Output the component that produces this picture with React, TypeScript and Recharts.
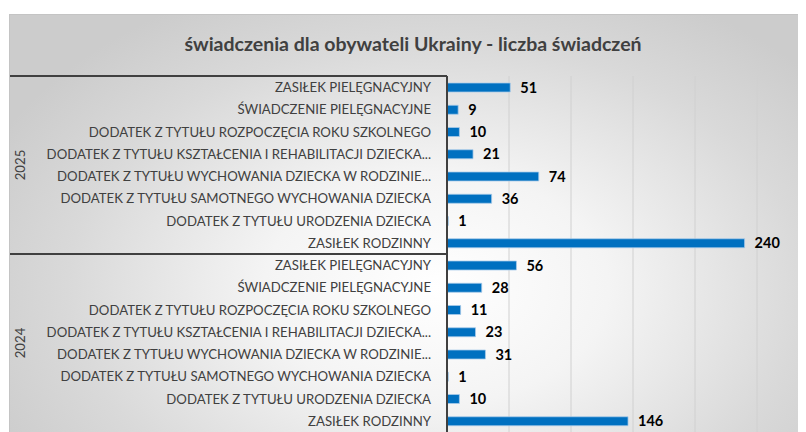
import { BarChart, Bar, XAxis, YAxis, CartesianGrid, LabelList } from "recharts";

const years = ["2025", "2024"];

const categories = [
  "ZASIŁEK PIELĘGNACYJNY",
  "ŚWIADCZENIE PIELĘGNACYJNE",
  "DODATEK Z TYTUŁU ROZPOCZĘCIA ROKU SZKOLNEGO",
  "DODATEK Z TYTUŁU KSZTAŁCENIA I REHABILITACJI DZIECKA...",
  "DODATEK Z TYTUŁU WYCHOWANIA DZIECKA W RODZINIE...",
  "DODATEK Z TYTUŁU SAMOTNEGO WYCHOWANIA DZIECKA",
  "DODATEK Z TYTUŁU URODZENIA DZIECKA",
  "ZASIŁEK RODZINNY",
];

const values2025 = [51, 9, 10, 21, 74, 36, 1, 240];
const values2024 = [56, 28, 11, 23, 31, 1, 10, 146];

const xTicks = [0, 50, 100, 150, 200, 250, 300];

const rows = [
  ...categories.map((c, i) => ({ key: `2025-${i}`, year: years[0], label: c, value: values2025[i] })),
  ...categories.map((c, i) => ({ key: `2024-${i}`, year: years[1], label: c, value: values2024[i] })),
];

const FONT = "Lato, 'Open Sans', sans-serif";
const BAND = 22.25;
const BOX_LEFT = 2;
const AXIS_X = 439;

function CategoryTick(props: any) {
  const { x, y, index } = props;
  const row = rows[index];
  const pos = index % categories.length;
  return (
    <g>
      <text
        x={x}
        y={y}
        dy={5}
        textAnchor="end"
        fill="#404040"
        fontSize={13.2}
        fontFamily={FONT}
      >
        {row.label}
      </text>
      {pos === 0 && (
        <line x1={BOX_LEFT} x2={AXIS_X} y1={y - BAND / 2} y2={y - BAND / 2} stroke="#404040" strokeWidth={2} />
      )}
      {pos === 3 && (
        <text
          x={12}
          y={y + BAND / 2}
          dy={5}
          textAnchor="middle"
          fill="#404040"
          fontSize={13.2}
          fontFamily={FONT}
          transform={`rotate(-90 12 ${y + BAND / 2})`}
        >
          {row.year}
        </text>
      )}
    </g>
  );
}

export default function App() {
  return (
    <div style={{ position: "relative", width: 798, height: 424, overflow: "hidden", background: "#fff" }}>
      <div
        style={{
          position: "absolute",
          left: 1,
          top: 6,
          width: 820,
          height: 440,
          borderTop: "1px solid #c4c4c4",
          borderLeft: "1px solid #c4c4c4",
          background: "radial-gradient(ellipse 60% 75% at 52% 62%, #ffffff 0%, #f4f4f4 35%, #d9d9d9 75%, #cccccc 100%)",
        }}
      />
      <div
        style={{
          position: "absolute",
          left: 0,
          top: 24,
          width: 810,
          textAlign: "center",
          fontFamily: FONT,
          fontWeight: 700,
          fontSize: 19.5,
          color: "#404040",
        }}
      >
        świadczenia dla obywateli Ukrainy - liczba świadczeń
      </div>
      <div style={{ position: "absolute", left: 0, top: 0 }}>
        <BarChart
          width={811}
          height={424}
          data={rows}
          layout="vertical"
          margin={{ top: 68, right: 0, bottom: 0, left: 0 }}
          barCategoryGap={0}
        >
          <CartesianGrid horizontal={false} stroke="#d0d0d0" />
          <XAxis type="number" domain={[0, 300]} ticks={xTicks} hide />
          <YAxis
            type="category"
            dataKey="key"
            width={AXIS_X}
            tickLine={false}
            tickSize={0}
            tickMargin={16}
            axisLine={{ stroke: "#404040", strokeWidth: 2 }}
            tick={<CategoryTick />}
            interval={0}
          />
          <Bar dataKey="value" fill="#0070C0" stroke="#A9CBEA" strokeWidth={0.75} barSize={9} isAnimationActive={false}>
            <LabelList
              dataKey="value"
              position="right"
              offset={10}
              fill="#000"
              fontSize={14.5}
              fontWeight={700}
              fontFamily={FONT}
            />
          </Bar>
        </BarChart>
      </div>
    </div>
  );
}
